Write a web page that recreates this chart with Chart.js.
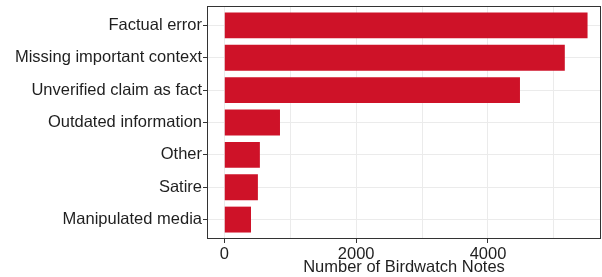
<!DOCTYPE html>
<html>
<head>
<meta charset="utf-8">
<script src="https://cdn.jsdelivr.net/npm/chart.js@4/dist/chart.umd.min.js"></script>
<style>
  html, body { margin:0; padding:0; background:#fff; }
  #wrap { width:602px; height:277px; }
</style>
</head>
<body>
<div id="wrap"><canvas id="c"></canvas></div>
<script>
// ── Data ──────────────────────────────────────────────────────────────────
const categories = ['Factual error','Missing important context','Unverified claim as fact',
  'Outdated information','Other','Satire','Manipulated media'];
const noteCounts = [5510, 5165, 4485, 845, 540, 510, 405];
const xTicks     = [0, 1000, 2000, 3000, 4000, 5000];
const xLabelled  = [0, 2000, 4000];

const RED = '#CE1228', INK = '#1f1f1f', GRID = '#ebebeb', EDGE = '#333333';
const FONT = { family:'"Liberation Sans", Arial, Helvetica, sans-serif', size:16.5 };

// panel border on all four sides, like theme_bw
const panelBorder = {
  id:'panelBorder',
  afterDraw(chart) {
    const a = chart.chartArea, ctx = chart.ctx;
    ctx.save();
    ctx.strokeStyle = EDGE; ctx.lineWidth = 1;
    ctx.strokeRect(a.left+0.5, a.top+0.5, a.right-a.left-1, a.bottom-a.top-1);
    ctx.restore();
  }
};

new Chart(document.getElementById('c'), {
  type:'bar',
  data:{
    datasets:[{
      data: noteCounts.map((v,i)=>({x:v, y:i})),
      backgroundColor: RED, borderWidth:0,
      barPercentage:0.8, categoryPercentage:1
    }]
  },
  options:{
    indexAxis:'y', responsive:true, maintainAspectRatio:false, animation:false,
    layout:{ padding:{ top:6, right:1, left:0, bottom:0 } },
    plugins:{ legend:{display:false}, tooltip:{enabled:false} },
    scales:{
      x:{
        type:'linear', min:-262, max:5714,
        afterBuildTicks: s => { s.ticks = xTicks.map(v=>({value:v})); },
        afterFit: s => { s.height = 38; s.paddingLeft = 0; s.paddingRight = 0; },
        grid:{ color:GRID, lineWidth:1, tickLength:4,
               tickColor: c => xLabelled.includes(c.tick && c.tick.value) ? EDGE : 'rgba(0,0,0,0)' },
        border:{ display:false },
        ticks:{ color:INK, font:FONT, padding:2, autoSkip:false, maxRotation:0,
                callback: v => xLabelled.includes(v) ? String(v) : '' },
        title:{ display:true, text:'Number of Birdwatch Notes', color:INK, font:FONT,
                padding:{top:-3, bottom:0} }
      },
      y:{
        type:'linear', min:-0.6, max:6.6, reverse:true, offset:false,
        afterBuildTicks: s => { s.ticks = categories.map((_,i)=>({value:i})); },
        afterFit: s => { s.width = 207; s.paddingTop = 0; s.paddingBottom = 0; },
        grid:{ color:GRID, lineWidth:1, tickLength:4, tickColor:EDGE, offset:false },
        border:{ display:false },
        ticks:{ color:INK, font:FONT, padding:1, autoSkip:false,
                callback: v => categories[v] }
      }
    }
  },
  plugins:[panelBorder]
});
</script>
</body>
</html>
